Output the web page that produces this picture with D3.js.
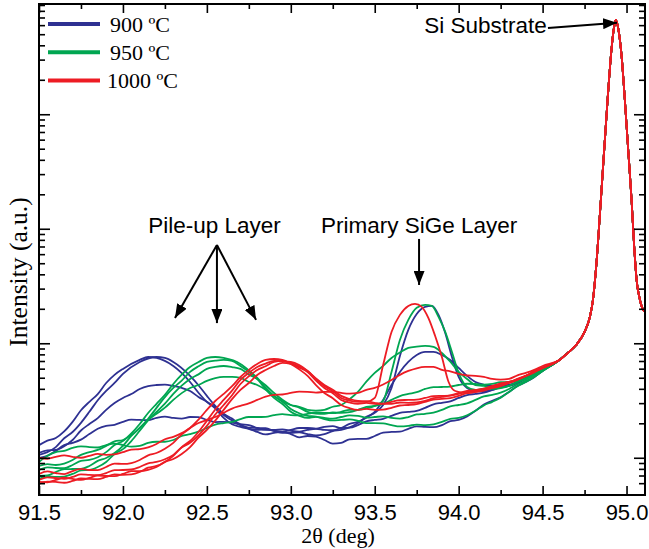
<!DOCTYPE html>
<html>
<head>
<meta charset="utf-8">
<script src="https://cdn.jsdelivr.net/npm/d3@7"></script>
<style>
  body { margin: 0; background: #fff; }
  svg { display: block; }
</style>
</head>
<body>
<svg id="chart" width="649" height="549"></svg>
<script>
// ---- HRXRD rocking scans: [2θ (deg), intensity (a.u.)] ----
const temperatures = ["900 ºC", "950 ºC", "1000 ºC"];
const tempColors = ["#2e3192", "#00a651", "#ed1c24"];

// 900 ºC scans
const scan900a = [[91.5,12.9],[91.55,14.1],[91.6,14.9],[91.65,17.0],[91.7,20.6],[91.75,26.0],[91.8,30.8],[91.85,36.0],[91.9,45.0],[91.95,53.0],[92.0,59.7],[92.1,71.5],[92.15,75.9],[92.2,74.4],[92.3,63.3],[92.4,45.9],[92.45,37.0],[92.5,30.8],[92.55,27.0],[92.6,22.3],[92.65,19.6],[92.7,18.6],[92.75,17.9],[92.8,16.8],[92.85,16.0],[92.9,16.5],[92.95,16.8],[93.0,16.1],[93.05,15.1],[93.1,15.5],[93.15,15.3],[93.2,14.3],[93.25,13.3],[93.3,13.5],[93.35,14.5],[93.4,14.6],[93.45,14.6],[93.5,15.5],[93.55,16.6],[93.6,16.8],[93.65,16.9],[93.7,17.9],[93.75,18.8],[93.8,18.6],[93.85,18.5],[93.9,19.3],[93.95,20.9],[94.0,21.4],[94.05,23.0],[94.1,25.7],[94.15,29.2],[94.2,31.4],[94.25,33.7],[94.3,37.6],[94.35,42.3],[94.4,45.9],[94.45,50.6],[94.5,57.3]];
const scan900b = [[91.5,10.6],[91.55,11.2],[91.6,12.4],[91.65,14.8],[91.7,16.8],[91.75,20.2],[91.8,25.2],[91.85,31.8],[91.9,38.3],[91.95,45.0],[92.0,54.0],[92.1,68.7],[92.2,75.9],[92.25,74.4],[92.3,68.7],[92.4,51.9],[92.45,43.0],[92.5,34.7],[92.55,28.4],[92.6,24.2],[92.65,22.0],[92.7,19.3],[92.75,18.0],[92.8,17.5],[92.85,17.7],[92.9,17.2],[92.95,16.9],[93.0,17.5],[93.05,18.2],[93.1,18.2],[93.15,18.0],[93.2,18.6],[93.25,18.9],[93.3,18.2],[93.35,18.3],[93.4,19.3],[93.45,20.8],[93.5,21.4],[93.55,21.9],[93.6,23.2],[93.65,24.7],[93.7,25.2],[93.75,25.7],[93.8,27.3],[93.85,29.3],[93.9,30.2],[93.95,31.1],[94.0,33.3],[94.05,35.3],[94.1,36.1],[94.15,37.0],[94.2,39.1],[94.25,41.8],[94.3,43.2],[94.35,45.8],[94.4,49.8],[94.45,55.0],[94.5,59.7]];
const scan900c = [[91.5,11.0],[91.55,11.6],[91.6,11.7],[91.65,12.6],[91.7,14.3],[91.75,17.3],[91.8,19.7],[91.85,22.2],[91.9,26.2],[91.95,30.1],[92.0,33.3],[92.05,36.0],[92.1,39.9],[92.15,42.3],[92.2,43.2],[92.25,43.5],[92.3,42.4],[92.35,40.8],[92.4,38.3],[92.45,34.0],[92.5,30.8],[92.55,27.5],[92.6,23.6],[92.65,21.2],[92.7,19.7],[92.75,19.3],[92.8,18.2],[92.85,17.5],[92.9,17.5],[92.95,17.7],[93.0,17.2],[93.05,16.9],[93.1,17.5],[93.15,17.9],[93.2,17.5],[93.25,17.4],[93.3,18.2],[93.35,19.8],[93.4,20.6],[93.45,22.4],[93.5,25.2],[93.55,32.0],[93.6,43.2],[93.65,56.2],[93.7,68.7],[93.75,79.0],[93.8,84.0],[93.85,84.0],[93.9,79.0],[93.95,71.5],[94.0,60.9],[94.05,51.9],[94.1,45.9],[94.15,43.4],[94.2,42.4],[94.25,43.6],[94.3,43.2],[94.35,45.8],[94.4,49.8],[94.45,54.6],[94.5,58.5]];
const scan900d = [[91.5,9.96],[91.55,10.4],[91.6,11.5],[91.65,12.9],[91.7,13.5],[91.75,14.4],[91.8,16.1],[91.85,17.9],[91.9,19.0],[91.95,19.4],[92.0,20.6],[92.05,21.5],[92.1,21.4],[92.15,21.3],[92.2,22.3],[92.25,22.9],[92.3,22.3],[92.35,22.0],[92.4,22.7],[92.45,22.6],[92.5,21.4],[92.55,20.5],[92.6,20.6],[92.65,20.3],[92.7,19.3],[92.75,18.3],[92.8,18.2],[92.85,18.1],[92.9,17.2],[92.95,16.5],[93.0,16.5],[93.05,16.7],[93.1,16.1],[93.15,15.7],[93.2,16.1],[93.25,17.1],[93.3,17.5],[93.35,18.4],[93.4,20.1],[93.45,22.8],[93.5,24.7],[93.55,28.9],[93.6,40.7],[93.65,77.4],[93.7,130.7],[93.75,180],[93.8,208],[93.84,212],[93.88,177],[93.92,123],[93.96,75.9],[94.0,50.8],[94.05,40.7],[94.1,38.3],[94.15,38.0],[94.2,39.1],[94.25,41.4],[94.3,42.4],[94.35,44.9],[94.4,48.8],[94.45,54.1],[94.5,58.5]];

// 950 ºC scans
const scan950a = [[91.5,7.82],[91.55,8.25],[91.6,8.14],[91.65,8.1],[91.7,8.65],[91.75,9.4],[91.8,9.57],[91.85,10.1],[91.9,11.2],[91.95,12.9],[92.0,14.0],[92.05,16.3],[92.1,19.7],[92.15,24.6],[92.2,29.6],[92.25,35.5],[92.3,44.1],[92.35,53.2],[92.4,62.1],[92.45,68.5],[92.5,74.4],[92.55,75.9],[92.6,74.4],[92.7,66.0],[92.75,58.0],[92.8,49.8],[92.85,41.0],[92.9,34.7],[92.95,30.9],[93.0,26.7],[93.05,24.5],[93.1,23.2],[93.15,22.9],[93.2,21.8],[93.25,21.2],[93.3,21.4],[93.35,21.6],[93.4,21.0],[93.45,20.1],[93.5,20.1],[93.55,20.0],[93.6,19.3],[93.65,18.8],[93.7,19.0],[93.75,19.5],[93.8,19.3],[93.85,19.6],[93.9,20.6],[93.95,21.9],[94.0,22.3],[94.05,23.5],[94.1,25.7],[94.15,28.7],[94.2,30.8],[94.25,33.5],[94.3,37.6],[94.35,42.1],[94.4,45.9],[94.45,50.8],[94.5,57.3]];
const scan950b = [[91.5,6.93],[91.55,7.0],[91.6,7.51],[91.65,7.95],[91.7,7.98],[91.75,8.0],[91.8,8.48],[91.85,9.4],[91.9,9.96],[91.95,11.0],[92.0,12.7],[92.05,15.5],[92.1,18.2],[92.15,21.9],[92.2,27.3],[92.25,33.9],[92.3,40.7],[92.35,47.2],[92.4,56.2],[92.45,62.9],[92.5,68.7],[92.55,70.5],[92.6,71.5],[92.65,70.1],[92.7,63.3],[92.75,56.3],[92.8,48.8],[92.85,39.7],[92.9,33.3],[92.95,29.5],[93.0,25.2],[93.05,23.3],[93.1,22.3],[93.15,22.8],[93.2,22.3],[93.25,22.0],[93.3,22.7],[93.35,23.5],[93.4,23.2],[93.45,22.4],[93.5,22.7],[93.55,23.0],[93.6,22.3],[93.65,22.0],[93.7,22.7],[93.75,23.9],[93.8,24.2],[93.85,24.8],[93.9,26.2],[93.95,28.1],[94.0,28.9],[94.05,29.9],[94.1,32.0],[94.15,34.3],[94.2,35.4],[94.25,37.0],[94.3,39.9],[94.35,43.9],[94.4,46.9],[94.45,51.3],[94.5,57.3]];
const scan950c = [[91.5,6.53],[91.55,6.9],[91.6,6.80],[91.65,6.85],[91.7,7.22],[91.75,7.75],[91.8,7.82],[91.85,8.3],[91.9,9.19],[91.95,10.8],[92.0,11.9],[92.05,14.0],[92.1,17.2],[92.15,21.2],[92.2,25.2],[92.25,29.7],[92.3,36.1],[92.35,42.6],[92.4,48.8],[92.45,53.5],[92.5,59.7],[92.55,62.2],[92.6,63.3],[92.65,62.0],[92.7,59.7],[92.75,53.4],[92.8,48.8],[92.85,43.0],[92.9,36.8],[92.95,32.1],[93.0,28.9],[93.05,27.4],[93.1,25.2],[93.15,24.3],[93.2,24.2],[93.25,24.9],[93.3,24.7],[93.35,25.0],[93.4,26.2],[93.45,27.8],[93.5,28.4],[93.55,29.6],[93.6,32.0],[93.65,34.6],[93.7,36.1],[93.75,37.4],[93.8,39.9],[93.85,41.4],[93.9,41.5],[93.95,41.8],[94.0,43.2],[94.05,44.3],[94.1,44.1],[94.15,43.5],[94.2,44.1],[94.25,45.7],[94.3,45.9],[94.35,47.2],[94.4,49.8],[94.45,54.5],[94.5,58.5]];
const scan950d = [[91.5,8.48],[91.55,8.8],[91.6,8.65],[91.65,8.9],[91.7,9.57],[91.75,10.6],[91.8,11.2],[91.85,11.7],[91.9,12.7],[91.95,13.9],[92.0,14.3],[92.05,15.8],[92.1,18.2],[92.15,21.4],[92.2,24.2],[92.25,27.4],[92.3,32.0],[92.35,36.7],[92.4,40.7],[92.45,43.2],[92.5,46.9],[92.55,49.5],[92.6,50.8],[92.65,50.9],[92.7,49.8],[92.75,45.9],[92.8,43.2],[92.85,39.3],[92.9,34.7],[92.95,31.2],[93.0,28.9],[93.05,27.9],[93.1,26.2],[93.15,25.8],[93.2,26.2],[93.25,27.9],[93.3,28.9],[93.35,32.5],[93.4,37.6],[93.45,46.2],[93.5,55.1],[93.55,63.5],[93.6,74.4],[93.65,83.0],[93.7,91.0],[93.75,93.5],[93.8,94.7],[93.85,92.8],[93.9,82.3],[93.95,69.0],[94.0,56.2],[94.05,48.8],[94.1,43.2],[94.15,42.4],[94.2,40.7],[94.25,41.0],[94.3,42.4],[94.35,46.1],[94.4,48.8],[94.45,52.9],[94.5,58.5]];
const scan950e = [[91.5,9.19],[91.55,10.4],[91.6,11.2],[91.65,11.5],[91.7,12.2],[91.75,12.6],[91.8,12.4],[91.85,12.3],[91.9,12.9],[91.95,13.3],[92.0,12.9],[92.05,12.5],[92.1,12.7],[92.15,13.5],[92.2,13.8],[92.25,13.8],[92.3,14.3],[92.35,15.5],[92.4,16.1],[92.45,16.9],[92.5,18.2],[92.55,19.5],[92.6,20.1],[92.65,20.6],[92.7,21.8],[92.75,22.7],[92.8,22.7],[92.85,22.8],[92.9,23.6],[92.95,24.1],[93.0,23.6],[93.05,23.5],[93.1,24.2],[93.15,24.9],[93.2,24.7],[93.25,24.5],[93.3,25.2],[93.35,26.2],[93.4,26.2],[93.45,27.0],[93.5,28.4],[93.55,31.4],[93.6,56.2],[93.65,106.9],[93.7,159.8],[93.75,204],[93.8,216],[93.84,212],[93.88,170],[93.92,125.6],[93.96,84.0],[94.0,55.1],[94.05,41.5],[94.1,39.1],[94.15,40.2],[94.2,39.9],[94.25,40.6],[94.3,42.4],[94.35,46.0],[94.4,48.8],[94.45,53.0],[94.5,58.5]];

// 1000 ºC scans
const scan1000a = [[91.5,7.22],[91.55,7.6],[91.6,7.36],[91.65,7.2],[91.7,7.66],[91.75,8.0],[91.8,7.82],[91.85,7.8],[91.9,8.31],[91.95,8.9],[92.0,8.83],[92.05,9.0],[92.1,9.57],[92.15,10.5],[92.2,11.0],[92.25,12.0],[92.3,13.5],[92.35,16.0],[92.4,18.2],[92.45,21.5],[92.5,26.2],[92.55,31.3],[92.6,36.1],[92.65,42.2],[92.7,50.8],[92.75,58.6],[92.8,66.0],[92.85,71.5],[92.9,72.9],[92.95,71.5],[93.0,66.0],[93.05,59.2],[93.1,51.9],[93.15,43.1],[93.2,36.8],[93.25,33.1],[93.3,28.9],[93.35,27.1],[93.4,26.2],[93.45,26.7],[93.5,26.2],[93.55,26.3],[93.6,27.3],[93.65,28.6],[93.7,28.9],[93.75,29.4],[93.8,30.8],[93.85,32.2],[93.9,32.7],[93.95,33.2],[94.0,34.7],[94.05,36.7],[94.1,37.6],[94.15,38.6],[94.2,40.7],[94.25,43.4],[94.3,45.0],[94.35,47.8],[94.4,51.9],[94.45,56.8],[94.5,60.9]];
const scan1000b = [[91.5,6.15],[91.55,6.1],[91.6,6.40],[91.65,6.7],[91.7,6.53],[91.75,6.4],[91.8,6.66],[91.85,7.0],[91.9,6.93],[91.95,6.9],[92.0,7.22],[92.05,7.65],[92.1,7.66],[92.15,7.85],[92.2,8.31],[92.25,9.2],[92.3,9.76],[92.35,10.8],[92.4,12.4],[92.45,15.0],[92.5,17.5],[92.55,21.1],[92.6,26.2],[92.65,32.5],[92.7,39.1],[92.75,45.0],[92.8,52.9],[92.85,58.5],[92.9,63.3],[92.95,67.3],[93.0,66.0],[93.05,61.5],[93.1,56.2],[93.15,47.2],[93.2,40.7],[93.25,36.6],[93.3,32.0],[93.35,30.4],[93.4,29.6],[93.45,30.1],[93.5,29.6],[93.55,29.7],[93.6,30.8],[93.65,31.9],[93.7,32.0],[93.75,32.2],[93.8,33.3],[93.85,34.5],[93.9,34.7],[93.95,34.9],[94.0,36.1],[94.05,37.7],[94.1,38.3],[94.15,39.4],[94.2,41.5],[94.25,44.2],[94.3,45.9],[94.35,48.3],[94.4,51.9],[94.45,56.6],[94.5,60.9]];
const scan1000c = [[91.5,6.40],[91.55,6.75],[91.6,6.66],[91.65,6.55],[91.7,6.80],[91.75,7.15],[91.8,7.08],[91.85,7.05],[91.9,7.36],[91.95,7.8],[92.0,7.82],[92.05,7.9],[92.1,8.31],[92.15,8.95],[92.2,9.19],[92.25,9.7],[92.3,10.6],[92.35,12.3],[92.4,13.5],[92.45,15.7],[92.5,19.0],[92.55,23.9],[92.6,28.9],[92.65,35.2],[92.7,44.1],[92.75,51.5],[92.8,58.5],[92.85,63.0],[92.9,68.7],[92.95,70.1],[93.0,67.3],[93.05,62.8],[93.1,57.3],[93.15,48.7],[93.2,42.4],[93.25,38.1],[93.3,33.3],[93.35,31.6],[93.4,30.8],[93.45,30.8],[93.5,33.3],[93.55,64.6],[93.6,125.6],[93.65,177],[93.7,212],[93.74,221],[93.78,208],[93.82,166],[93.86,115.8],[93.9,75.9],[93.94,45.9],[93.98,38.3],[94.05,36.8],[94.1,37.6],[94.15,39.6],[94.2,40.7],[94.25,42.3],[94.3,45.0],[94.35,48.9],[94.4,51.9],[94.45,55.7],[94.5,60.9]];
const scan1000d = [[91.5,9.96],[91.55,9.8],[91.6,10.2],[91.65,10.5],[91.7,10.2],[91.75,10.0],[91.8,10.4],[91.85,10.8],[91.9,10.6],[91.95,10.7],[92.0,11.2],[92.05,11.8],[92.1,11.9],[92.15,12.3],[92.2,13.2],[92.25,14.5],[92.3,15.2],[92.35,16.4],[92.4,18.2],[92.45,20.1],[92.5,21.4],[92.55,22.7],[92.6,24.7],[92.65,26.9],[92.7,28.4],[92.75,29.8],[92.8,32.0],[92.85,34.2],[92.9,35.4],[92.95,35.7],[93.0,36.8],[93.05,37.8],[93.1,37.6],[93.15,37.1],[93.2,37.6],[93.25,37.7],[93.3,36.8],[93.35,36.3],[93.4,36.8],[93.45,39.2],[93.5,40.7],[93.55,43.6],[93.6,47.8],[93.65,53.0],[93.7,57.3],[93.75,60.5],[93.8,62.1],[93.85,62.1],[93.9,58.5],[93.95,56.8],[94.0,54.0],[94.05,52.3],[94.1,51.9],[94.15,50.9],[94.2,48.8],[94.25,48.2],[94.3,48.8],[94.35,52.5],[94.4,55.1],[94.45,58.5],[94.5,63.3]];
const scan1000e = [[91.5,5.90],[91.55,6.2],[91.6,6.15],[91.65,6.05],[91.7,6.27],[91.75,6.6],[91.8,6.53],[91.85,6.5],[91.9,6.80],[91.95,7.15],[92.0,7.08],[92.05,7.15],[92.1,7.51],[92.15,8.2],[92.2,8.48],[92.25,9.2],[92.3,10.4],[92.35,12.4],[92.4,14.0],[92.45,16.8],[92.5,21.0],[92.55,26.4],[92.6,32.0],[92.65,38.6],[92.7,47.8],[92.75,55.1],[92.8,62.1],[92.85,66.5],[92.9,70.1],[93.0,68.7],[93.05,64.6],[93.1,57.3],[93.15,49.2],[93.2,43.2],[93.25,39.2],[93.3,34.7],[93.35,32.6],[93.4,31.4],[93.45,31.2],[93.5,30.2],[93.55,29.5],[93.6,29.6],[93.65,30.4],[93.7,30.2],[93.75,30.4],[93.8,31.4],[93.85,33.1],[93.9,34.0],[93.95,35.0],[94.0,36.8],[94.05,38.4],[94.1,39.1],[94.15,40.2],[94.2,42.4],[94.25,44.7],[94.3,45.9],[94.35,48.3],[94.4,51.9],[94.45,56.7],[94.5,60.9]];

// Si substrate reflection, common to every scan
const substratePeak = [[94.6,71.5],[94.65,82.3],[94.7,96.6],[94.75,125.6],[94.78,166],[94.8,239],[94.82,483],[94.847,1784],[94.887,13330],[94.91,36400],[94.925,56700],[94.936,66600],[94.95,56700],[94.97,32960],[94.99,13330],[95.01,4878],[95.03,1784],[95.045,722],[95.06,357],[95.08,239],[95.1,195],[95.11,188]];

const scanGroups = [
  [scan900a, scan900b, scan900c, scan900d],
  [scan950a, scan950b, scan950c, scan950d, scan950e],
  [scan1000a, scan1000b, scan1000c, scan1000d, scan1000e]
];

// axis ticks
const xMajorTicks = [91.5, 92.0, 92.5, 93.0, 93.5, 94.0, 94.5, 95.0];
const xMinorTicks = [91.75, 92.25, 92.75, 93.25, 93.75, 94.25, 94.75];
const yMajorTicks = [10, 100, 1000, 10000];
const yMinorTicks = [6,7,8,9, 20,30,40,50,60,70,80,90, 200,300,400,500,600,700,800,900,
                     2000,3000,4000,5000,6000,7000,8000,9000, 20000,30000,40000,50000,60000,70000,80000,90000];

// annotations, in data coordinates
const pileArrowFrom = [92.56, 722];
const pileArrowTips = [[92.31, 166], [92.56, 150], [92.793, 160]];
const primaryArrow = [[93.764, 815], [93.764, 323]];
const substrateArrow = [[94.532, 56700], [94.943, 63100]];
const labelPile = { text: "Pile-up Layer", at: [92.545, 919] };
const labelPrimary = { text: "Primary SiGe Layer", at: [93.764, 919] };
const labelSubstrate = { text: "Si Substrate", at: [94.525, 51300] };

// ---- drawing ----
const svg = d3.select("#chart");
const plot = { left: 39, right: 645, top: 4, bottom: 495 };

const x = d3.scaleLinear().domain([91.5, 95.11]).range([plot.left, plot.right]);
const y = d3.scaleLog().domain([4.73, 91800]).range([plot.bottom, plot.top]);

const serif = "'Liberation Serif','Times New Roman',Times,serif";
const sans = "'Liberation Sans',Arial,Helvetica,sans-serif";

const defs = svg.append("defs");
defs.append("clipPath").attr("id", "plotClip")
  .append("rect")
  .attr("x", plot.left).attr("y", plot.top)
  .attr("width", plot.right - plot.left).attr("height", plot.bottom - plot.top);

const line = d3.line()
  .x(d => x(d[0]))
  .y(d => y(d[1]))
  .curve(d3.curveMonotoneX);

const curves = svg.append("g").attr("clip-path", "url(#plotClip)");
scanGroups.forEach((group, gi) => {
  group.forEach(scan => {
    curves.append("path")
      .datum(scan.concat(substratePeak))
      .attr("d", line)
      .attr("fill", "none")
      .attr("stroke", tempColors[gi])
      .attr("stroke-width", 1.8)
      .attr("stroke-linejoin", "round");
  });
});

// axes with inward ticks on all four sides
function styleAxis(g) {
  g.select(".domain").remove();
  g.selectAll(".tick line").attr("stroke", "#000").attr("stroke-width", 1.6);
}
const axes = svg.append("g");
axes.append("g").attr("transform", `translate(0,${plot.bottom})`)
  .call(d3.axisBottom(x).tickValues(xMajorTicks).tickSize(-9).tickPadding(9).tickFormat(d3.format(".1f")))
  .call(styleAxis)
  .call(g => g.selectAll("text").attr("font-family", sans).attr("font-size", 22).attr("fill", "#000"));
axes.append("g").attr("transform", `translate(0,${plot.bottom})`)
  .call(d3.axisBottom(x).tickValues(xMinorTicks).tickSize(-5).tickFormat(""))
  .call(styleAxis);
axes.append("g").attr("transform", `translate(0,${plot.top})`)
  .call(d3.axisTop(x).tickValues(xMajorTicks).tickSize(-9).tickFormat(""))
  .call(styleAxis);
axes.append("g").attr("transform", `translate(0,${plot.top})`)
  .call(d3.axisTop(x).tickValues(xMinorTicks).tickSize(-5).tickFormat(""))
  .call(styleAxis);
axes.append("g").attr("transform", `translate(${plot.left},0)`)
  .call(d3.axisLeft(y).tickValues(yMajorTicks).tickSize(-11).tickFormat(""))
  .call(styleAxis);
axes.append("g").attr("transform", `translate(${plot.left},0)`)
  .call(d3.axisLeft(y).tickValues(yMinorTicks).tickSize(-6).tickFormat(""))
  .call(styleAxis);
axes.append("g").attr("transform", `translate(${plot.right},0)`)
  .call(d3.axisRight(y).tickValues(yMajorTicks).tickSize(-11).tickFormat(""))
  .call(styleAxis);
axes.append("g").attr("transform", `translate(${plot.right},0)`)
  .call(d3.axisRight(y).tickValues(yMinorTicks).tickSize(-6).tickFormat(""))
  .call(styleAxis);

svg.append("rect")
  .attr("x", plot.left).attr("y", plot.top)
  .attr("width", plot.right - plot.left).attr("height", plot.bottom - plot.top)
  .attr("fill", "none").attr("stroke", "#000").attr("stroke-width", 2);

// axis titles
svg.append("text")
  .attr("x", (plot.left + plot.right) / 2 - 4).attr("y", 543)
  .attr("text-anchor", "middle")
  .attr("font-family", serif).attr("font-size", 22)
  .text("2θ (deg)");
svg.append("text")
  .attr("transform", `translate(27,272) rotate(-90)`)
  .attr("text-anchor", "middle")
  .attr("font-family", serif).attr("font-size", 25.5)
  .text("Intensity (a.u.)");

// legend
const legend = svg.append("g").attr("transform", "translate(48,24)");
temperatures.forEach((t, i) => {
  const row = legend.append("g").attr("transform", `translate(0,${i * 28.2})`);
  row.append("line").attr("x1", 0).attr("x2", 52).attr("y1", 0).attr("y2", 0)
    .attr("stroke", tempColors[i]).attr("stroke-width", 4);
  row.append("text").attr("x", i === 2 ? 59 : 62).attr("y", 7.5)
    .attr("font-family", serif).attr("font-size", 22)
    .text(t);
});

// annotations
defs.append("marker")
  .attr("id", "arrowHead")
  .attr("viewBox", "0 0 14 11")
  .attr("refX", 14).attr("refY", 5.5)
  .attr("markerWidth", 14).attr("markerHeight", 11)
  .attr("markerUnits", "userSpaceOnUse")
  .attr("orient", "auto")
  .append("path").attr("d", "M0,0 L14,5.5 L0,11 Z").attr("fill", "#000");

const notes = svg.append("g");
function arrow(from, to) {
  notes.append("line")
    .attr("x1", x(from[0])).attr("y1", y(from[1]))
    .attr("x2", x(to[0])).attr("y2", y(to[1]))
    .attr("stroke", "#000").attr("stroke-width", 2)
    .attr("marker-end", "url(#arrowHead)");
}
pileArrowTips.forEach(tip => arrow(pileArrowFrom, tip));
arrow(primaryArrow[0], primaryArrow[1]);
arrow(substrateArrow[0], substrateArrow[1]);

[[labelPile, "middle"], [labelPrimary, "middle"], [labelSubstrate, "end"]].forEach(([lab, anchor]) => {
  notes.append("text")
    .attr("x", x(lab.at[0])).attr("y", y(lab.at[1]))
    .attr("text-anchor", anchor)
    .attr("font-family", sans).attr("font-size", 22.5)
    .text(lab.text);
});
</script>
</body>
</html>
